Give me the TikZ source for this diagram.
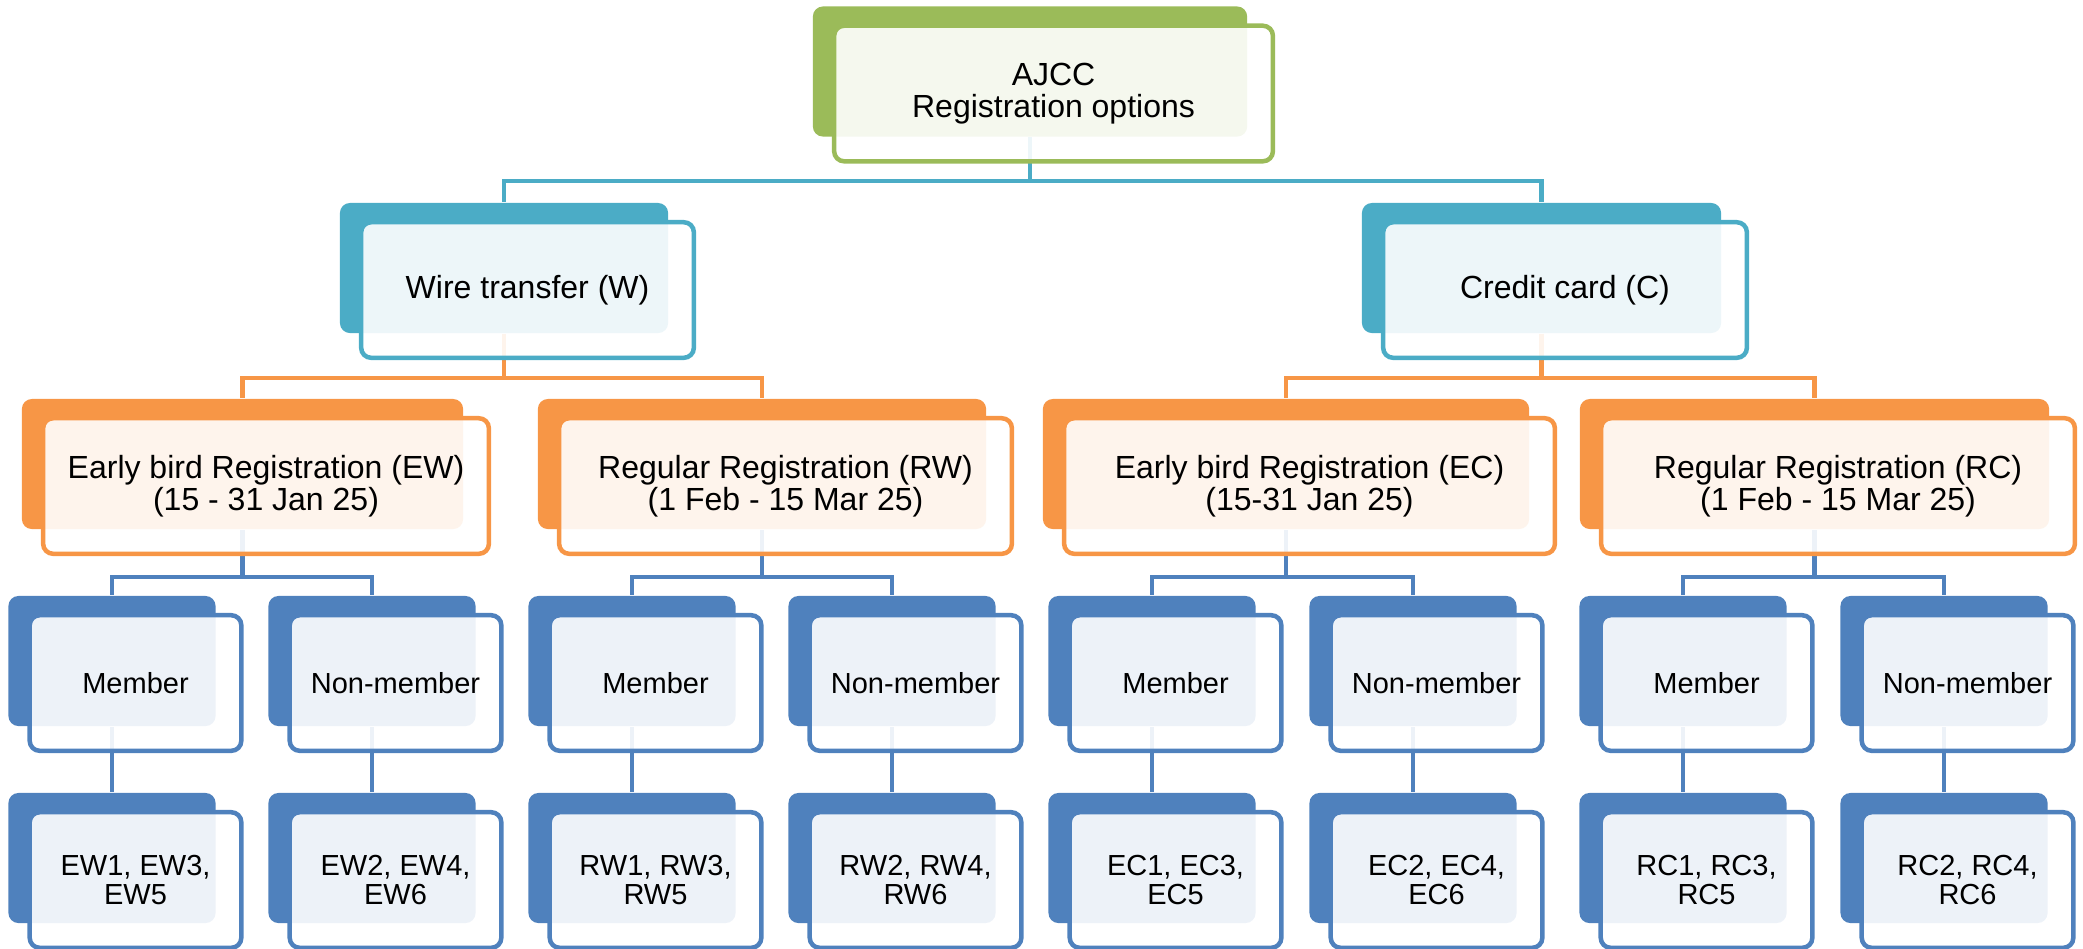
\documentclass[tikz,border=0pt]{standalone}
\usepackage{fontspec}
\setmainfont{Liberation Sans}
\usepackage{tikz}
\usetikzlibrary{positioning,backgrounds}
\definecolor{acgreen}{RGB}{155,187,89}
\definecolor{acteal}{RGB}{75,172,198}
\definecolor{acorange}{RGB}{247,150,70}
\definecolor{acblue}{RGB}{79,129,189}
\tikzstyle{back} = [rectangle, rounded corners=0.1cm, inner sep=0pt, minimum height=1.3cm]
\tikzstyle{front} = [rectangle, rounded corners=0.1cm, minimum height=1.355cm, fill=white, fill opacity=0.9, text opacity=1, line width=0.045cm, align=center, xshift=0.235cm, yshift=-0.22cm]
\tikzstyle{leafback} = [back, fill=acblue, minimum width=2.07cm]
\tikzstyle{leaffront} = [front, draw=acblue, minimum width=2.115cm, font=\fontsize{8.25}{8.4}\selectfont]
\tikzstyle{bigtext} = [font=\fontsize{9.1}{9.1}\selectfont]
\tikzstyle{link} = [line width=0.045cm]

\begin{document}
\begin{tikzpicture}[x=0.01cm, y=-0.01cm]
\useasboundingbox (0,0) rectangle (2083,948);

% Top level
\node[back, fill=acgreen, minimum width=4.34cm] (ajccb) at (1030,71.5) {};
\node[front, draw=acgreen, minimum width=4.385cm, bigtext] (ajcc) at (ajccb) {AJCC\\Registration options};

% Payment method
\node[back, fill=acteal, minimum width=3.28cm] (wireb) at (504,268) {};
\node[front, draw=acteal, minimum width=3.325cm, bigtext] (wire) at (wireb) {Wire transfer (W)};
\node[back, fill=acteal, minimum width=3.59cm] (cardb) at (1541.5,268) {};
\node[front, draw=acteal, minimum width=3.635cm, bigtext] (card) at (cardb) {Credit card (C)};

% Registration period
\node[back, fill=acorange, minimum width=4.41cm] (ewb) at (242.5,464) {};
\node[front, draw=acorange, minimum width=4.455cm, bigtext] (ew) at (ewb) {Early bird Registration (EW)\\(15 - 31 Jan 25)};
\node[back, fill=acorange, minimum width=4.48cm] (rwb) at (762,464) {};
\node[front, draw=acorange, minimum width=4.525cm, bigtext] (rw) at (rwb) {Regular Registration (RW)\\(1 Feb - 15 Mar 25)};
\node[back, fill=acorange, minimum width=4.86cm] (ecb) at (1286,464) {};
\node[front, draw=acorange, minimum width=4.905cm, bigtext] (ec) at (ecb) {Early bird Registration (EC)\\(15-31 Jan 25)};
\node[back, fill=acorange, minimum width=4.69cm] (rcb) at (1814.5,464) {};
\node[front, draw=acorange, minimum width=4.735cm, bigtext] (rc) at (rcb) {Regular Registration (RC)\\(1 Feb - 15 Mar 25)};

% Membership
\node[leafback] (ewmb) at (112,661) {};
\node[leaffront] (ewm) at (ewmb) {Member};
\node[leafback] (ewnb) at (372,661) {};
\node[leaffront] (ewn) at (ewnb) {Non-member};
\node[leafback] (rwmb) at (632,661) {};
\node[leaffront] (rwm) at (rwmb) {Member};
\node[leafback] (rwnb) at (892,661) {};
\node[leaffront] (rwn) at (rwnb) {Non-member};
\node[leafback] (ecmb) at (1152,661) {};
\node[leaffront] (ecm) at (ecmb) {Member};
\node[leafback] (ecnb) at (1413,661) {};
\node[leaffront] (ecn) at (ecnb) {Non-member};
\node[leafback] (rcmb) at (1683,661) {};
\node[leaffront] (rcm) at (rcmb) {Member};
\node[leafback] (rcnb) at (1944,661) {};
\node[leaffront] (rcn) at (rcnb) {Non-member};

% Registration codes
\node[leafback] (ewmlb) at (112,858) {};
\node[leaffront] (ewml) at (ewmlb) {EW1, EW3,\\EW5};
\node[leafback] (ewnlb) at (372,858) {};
\node[leaffront] (ewnl) at (ewnlb) {EW2, EW4,\\EW6};
\node[leafback] (rwmlb) at (632,858) {};
\node[leaffront] (rwml) at (rwmlb) {RW1, RW3,\\RW5};
\node[leafback] (rwnlb) at (892,858) {};
\node[leaffront] (rwnl) at (rwnlb) {RW2, RW4,\\RW6};
\node[leafback] (ecmlb) at (1152,858) {};
\node[leaffront] (ecml) at (ecmlb) {EC1, EC3,\\EC5};
\node[leafback] (ecnlb) at (1413,858) {};
\node[leaffront] (ecnl) at (ecnlb) {EC2, EC4,\\EC6};
\node[leafback] (rcmlb) at (1683,858) {};
\node[leaffront] (rcml) at (rcmlb) {RC1, RC3,\\RC5};
\node[leafback] (rcnlb) at (1944,858) {};
\node[leaffront] (rcnl) at (rcnlb) {RC2, RC4,\\RC6};

% Connectors
\begin{scope}[on background layer]
\draw[link, acteal] (ajccb.south) -- ++(0,44) -| (wireb.north);
\draw[link, acteal] (ajccb.south) -- ++(0,44) -| (cardb.north);
\draw[link, acorange] (wireb.south) -- ++(0,44) -| (ewb.north);
\draw[link, acorange] (wireb.south) -- ++(0,44) -| (rwb.north);
\draw[link, acorange] (cardb.south) -- ++(0,44) -| (ecb.north);
\draw[link, acorange] (cardb.south) -- ++(0,44) -| (rcb.north);
\draw[link, acblue] (ewb.south) -- ++(0,47) -| (ewmb.north);
\draw[link, acblue] (ewb.south) -- ++(0,47) -| (ewnb.north);
\draw[link, acblue] (rwb.south) -- ++(0,47) -| (rwmb.north);
\draw[link, acblue] (rwb.south) -- ++(0,47) -| (rwnb.north);
\draw[link, acblue] (ecb.south) -- ++(0,47) -| (ecmb.north);
\draw[link, acblue] (ecb.south) -- ++(0,47) -| (ecnb.north);
\draw[link, acblue] (rcb.south) -- ++(0,47) -| (rcmb.north);
\draw[link, acblue] (rcb.south) -- ++(0,47) -| (rcnb.north);
\draw[link, acblue] (ewmb) -- (ewmlb);
\draw[link, acblue] (ewnb) -- (ewnlb);
\draw[link, acblue] (rwmb) -- (rwmlb);
\draw[link, acblue] (rwnb) -- (rwnlb);
\draw[link, acblue] (ecmb) -- (ecmlb);
\draw[link, acblue] (ecnb) -- (ecnlb);
\draw[link, acblue] (rcmb) -- (rcmlb);
\draw[link, acblue] (rcnb) -- (rcnlb);
\end{scope}
\end{tikzpicture}
\end{document}
